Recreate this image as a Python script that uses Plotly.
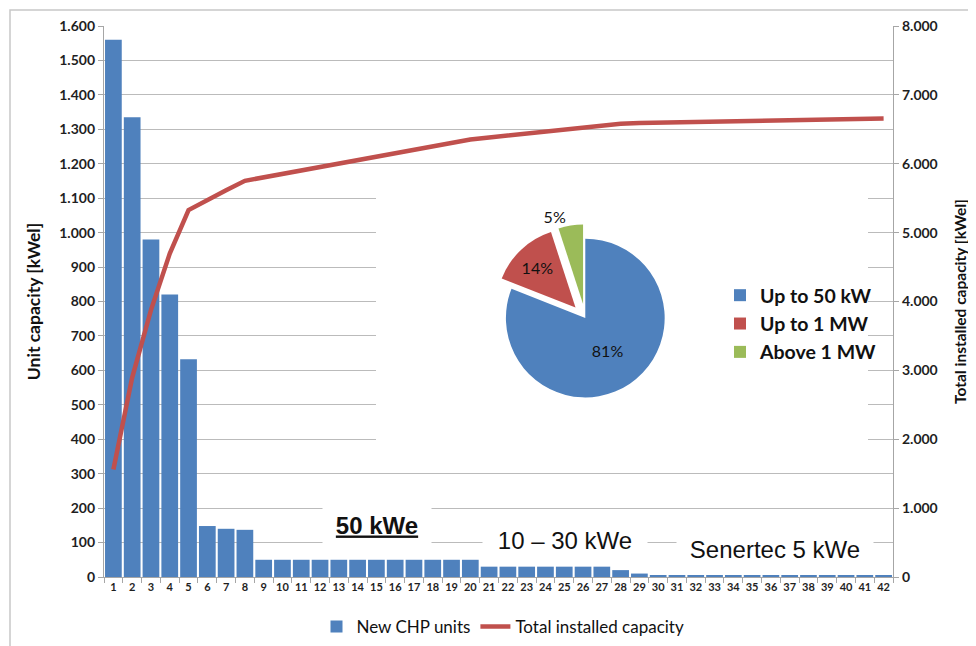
import plotly.graph_objects as go

# ---------------- data ----------------
unit_numbers = [str(i) for i in range(1, 43)]
unit_capacity = [1560, 1335, 980, 820, 632, 148, 140, 137,
                 50, 50, 50, 50, 50, 50, 50, 50, 50, 50, 50, 50,
                 30, 30, 30, 30, 30, 30, 30, 20, 10,
                 5, 5, 5, 5, 5, 5, 5, 5, 5, 5, 5, 5, 5]
total_capacity = []
_run = 0
for v in unit_capacity:
    _run += v
    total_capacity.append(_run)

pie_labels = ["Up to 50 kW", "Up to 1 MW", "Above 1 MW"]
pie_values = [81, 14, 5]

left_ticks = list(range(0, 1601, 100))
right_ticks = list(range(0, 8001, 1000))

BLUE = "#4F81BD"
RED = "#C0504D"
GREEN = "#9BBB59"
GRID = "#BBBBBB"
AXIS = "#A6A6A6"
DARK = "#1f1f1f"
TICKFONT = dict(family="Lato, Open Sans, sans-serif", size=14, color=DARK, weight="bold")

# The page body adds an 8px offset; figure is sized/positioned to compensate.
OFF = 8
W, H = 976 - OFF, 646 - OFF
# plot-area geometry in reference-screen pixels
RL, RR, RT, RB = 104, 893, 26, 577
L, R, T, B = RL - OFF, RR - OFF, RT - OFF, RB - OFF


def px_x(px):
    return (px - RL) / (RR - RL)


def px_y(py):
    return (RB - py) / (RB - RT)


fig = go.Figure()

fig.add_trace(go.Bar(
    x=unit_numbers, y=unit_capacity, name="New CHP units",
    marker=dict(color=BLUE, line=dict(width=0)), yaxis="y", legend="legend",
))
fig.add_trace(go.Scatter(
    x=unit_numbers, y=total_capacity, name="Total installed capacity",
    mode="lines", line=dict(color=RED, width=4.5), yaxis="y2", legend="legend",
))
fig.add_trace(go.Pie(
    labels=pie_labels, values=pie_values, sort=False, direction="clockwise",
    rotation=0, pull=[0, 0.18, 0.18],
    marker=dict(colors=[BLUE, RED, GREEN], line=dict(width=0)),
    textinfo="percent", textposition=["inside", "inside", "outside"],
    textfont=dict(family="Lato, sans-serif", size=16, color="#111111"),
    insidetextorientation="horizontal",
    domain=dict(x=[0.49, 0.73], y=[0.30, 0.64]),
    legend="legend2", showlegend=True,
))

fig.update_layout(
    width=W, height=H,
    margin=dict(l=L, r=W - R, t=T, b=H - B, autoexpand=False),
    paper_bgcolor="white", plot_bgcolor="white",
    separators=",.",
    bargap=0.11,
    xaxis=dict(
        type="category", tickson="boundaries", ticks="outside", ticklen=5,
        tickcolor=AXIS, showline=True, linecolor=AXIS, linewidth=1.3,
        showgrid=False, automargin=False,
        tickfont=dict(family="Lato, sans-serif", size=11, color=DARK, weight="bold"),
        tickangle=0,
    ),
    yaxis=dict(
        range=[0, 1600], tickvals=left_ticks, tickformat=",d",
        ticks="outside", ticklen=5, tickcolor=AXIS,
        showline=True, linecolor=AXIS, linewidth=1.3,
        showgrid=True, gridcolor=GRID, gridwidth=1.3,
        tickfont=TICKFONT, zeroline=False, automargin=False,
        title=dict(text="Unit capacity [kWel]", standoff=14,
                   font=dict(family="Lato, sans-serif", size=17.5, color="#111111", weight="bold")),
    ),
    yaxis2=dict(
        range=[0, 8000], tickvals=right_ticks, tickformat=",d",
        overlaying="y", side="right",
        ticks="outside", ticklen=5, tickcolor=AXIS,
        showline=True, linecolor=AXIS, linewidth=1.3,
        showgrid=False, zeroline=False, tickfont=TICKFONT, automargin=False,
        title=dict(text="Total installed capacity [kWel]", standoff=18,
                   font=dict(family="Lato, sans-serif", size=15.5, color="#111111", weight="bold")),
    ),
    legend=dict(
        orientation="h", x=px_x(503), xanchor="center", y=px_y(627), yanchor="middle",
        font=dict(family="Lato, sans-serif", size=17, color="#111111"),
        bgcolor="rgba(0,0,0,0)", traceorder="normal",
    ),
    legend2=dict(
        x=px_x(720), xanchor="left", y=px_y(276), yanchor="top",
        font=dict(family="Lato, sans-serif", size=19.5, color="#111111", weight="bold"),
        bgcolor="rgba(0,0,0,0)",
    ),
    shapes=[
        # white panel behind the pie chart (hides grid lines)
        dict(type="rect", xref="x", yref="y",
             x0=(376 - RL) / ((RR - RL) / 42) - 0.5, x1=(868 - RL) / ((RR - RL) / 42) - 0.5,
             y0=(RB - 455) / ((RB - RT) / 1600), y1=(RB - 185) / ((RB - RT) / 1600),
             fillcolor="white", line=dict(width=0), layer="between"),
        # outer chart border
        dict(type="rect", xref="paper", yref="paper",
             x0=px_x(10), x1=px_x(1000), y0=px_y(670), y1=px_y(10),
             fillcolor="rgba(0,0,0,0)", line=dict(color="#C8C8C8", width=1.5), layer="below"),
    ],
    annotations=[
        dict(text="<b>50 kWe</b>", xref="paper", yref="paper",
             x=px_x(377), y=px_y(525), xanchor="center", yanchor="middle", showarrow=False,
             font=dict(family="Liberation Sans, Arial, sans-serif", size=24, color="#111111",
                       lineposition="under"),
             bgcolor="white", width=100, height=44, borderpad=4),
        dict(text="10 – 30 kWe", xref="paper", yref="paper",
             x=px_x(565), y=px_y(540), xanchor="center", yanchor="middle", showarrow=False,
             font=dict(family="Liberation Sans, Arial, sans-serif", size=24, color="#111111"),
             bgcolor="white", width=156, height=30, borderpad=4),
        dict(text="Senertec 5 kWe", xref="paper", yref="paper",
             x=px_x(775), y=px_y(549), xanchor="center", yanchor="middle", showarrow=False,
             font=dict(family="Liberation Sans, Arial, sans-serif", size=24, color="#111111"),
             bgcolor="white", width=188, height=30, borderpad=4),
    ],
)

fig.write_html("out.html")
